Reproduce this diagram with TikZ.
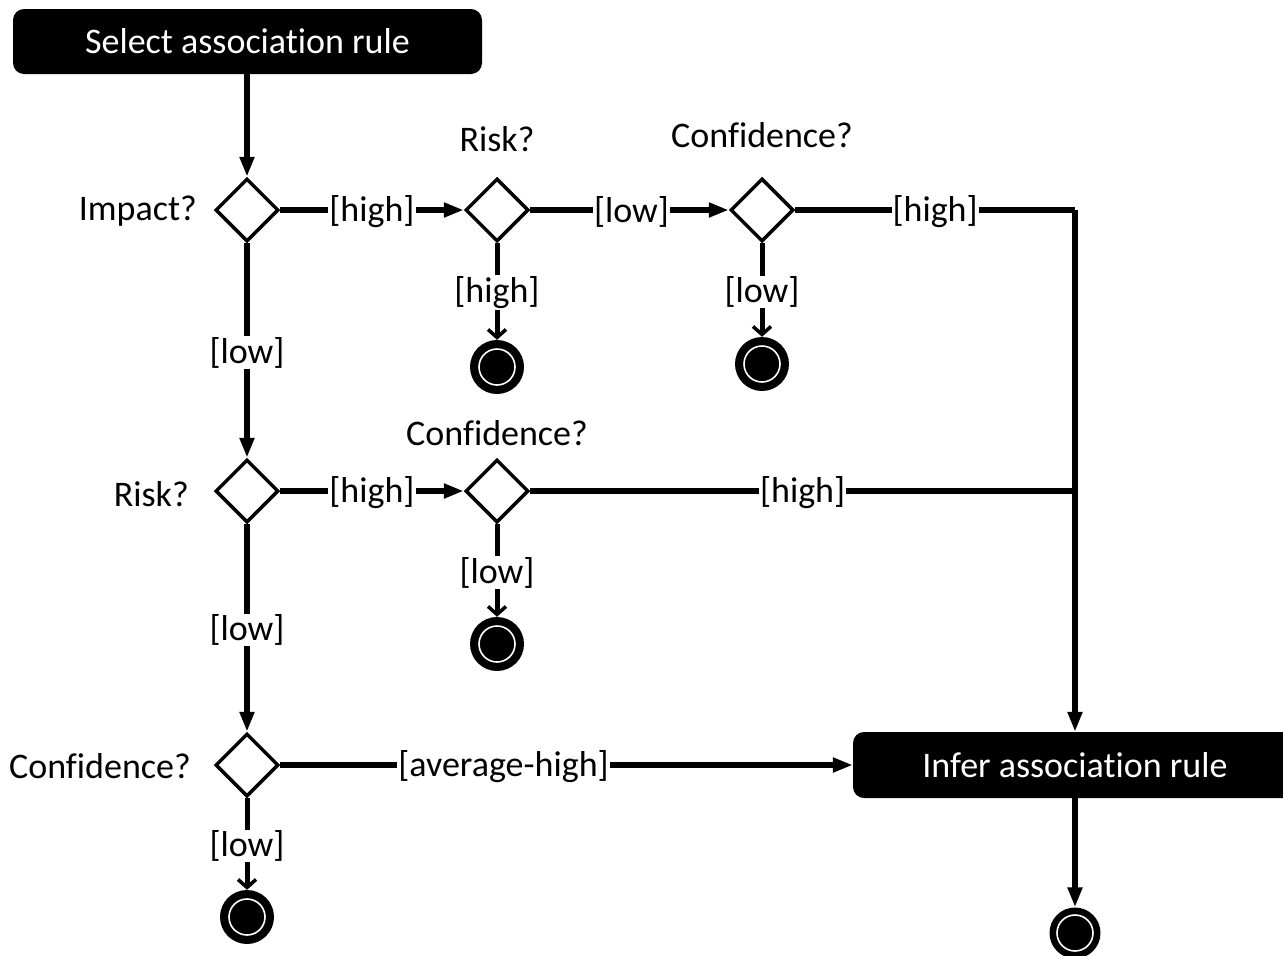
\documentclass[tikz,border=0pt]{standalone}
\usepackage{fontspec}
\setmainfont{Carlito}[Ligatures=NoCommon]
\usetikzlibrary{shapes.geometric,arrows.meta}
\begin{document}
\begin{tikzpicture}[x=1pt,y=-1pt,
  every node/.style={font=\fontsize{36}{42}\selectfont},
  action/.style={rectangle, rounded corners=11pt, fill=black, text=white, inner sep=0pt, font=\fontsize{36}{42}\selectfont},
  decision/.style={diamond, draw=black, fill=white, line width=3.5pt, minimum size=63pt, inner sep=0pt, aspect=1},
  endnode/.style={circle, fill=black, minimum size=54pt, inner sep=0pt,
    path picture={\draw[white, line width=1.6pt] (path picture bounding box.center) circle (18pt);}},
  flow/.style={line width=5.5pt, -{Triangle[length=20pt,width=14pt]}},
  plain/.style={line width=5.5pt},
  toend/.style={line width=5pt, -{Straight Barb[length=8pt,width=18pt,line width=3.5pt]}},
  guard/.style={fill=white, inner sep=1pt, yshift=-2pt},
  qlabel/.style={inner sep=0pt}
]
\useasboundingbox (0,0) rectangle (1283,956);
% action nodes
\node[action, minimum width=469pt, minimum height=65pt] (sel) at (247.5,41.5) {Select association rule};
\node[action, minimum width=444pt, minimum height=66pt] (inf) at (1075,765) {Infer association rule};
% decisions
\node[decision] (imp) at (247,210) {};
\node[decision] (r1) at (497,210) {};
\node[decision] (c1) at (762,210) {};
\node[decision] (r2) at (247,491) {};
\node[decision] (c2) at (497,491) {};
\node[decision] (c3) at (247,765) {};
% end nodes
\node[endnode] (e1) at (497,367) {};
\node[endnode] (e2) at (762,364) {};
\node[endnode] (e3) at (497,644) {};
\node[endnode] (e4) at (247,917) {};
\node[endnode, minimum size=51pt] (e5) at (1075,933) {};
% question labels
\node[qlabel, anchor=east] (limp) at (197,211) {Impact?};
\node[qlabel] (lr1) at (497,139) {Risk?};
\node[qlabel] (lc1) at (762,135) {Confidence?};
\node[qlabel, anchor=east] (lr2) at (189,494) {Risk?};
\node[qlabel] (lc2) at (497,433) {Confidence?};
\node[qlabel, anchor=east] (lc3) at (191,766) {Confidence?};
% junctions
\coordinate (j1) at (1075,210);
\coordinate (j2) at (1075,491);
% connectors
\draw[flow] (sel.south -| imp.north) -- (imp.north);
\draw[flow] (imp.east) -- node[guard, pos=0.5] {[high]} (r1.west);
\draw[flow] (r1.east) -- node[guard, pos=0.51] {[low]} (c1.west);
\draw[plain] (c1.east) -- node[guard, pos=0.5] {[high]} (j1);
\draw[flow] (j1) -- (inf.north);
\draw[toend] (r1.south) -- node[guard, pos=0.49] {[high]} (e1.north);
\draw[toend] (c1.south) -- node[guard, pos=0.5] {[low]} (e2.north);
\draw[flow] (imp.south) -- node[guard, pos=0.5] {[low]} (r2.north);
\draw[flow] (r2.east) -- node[guard, pos=0.5] {[high]} (c2.west);
\draw[plain] (c2.east) -- node[guard, pos=0.5] {[high]} (j2);
\draw[toend] (c2.south) -- node[guard, pos=0.5] {[low]} (e3.north);
\draw[flow] (r2.south) -- node[guard, pos=0.5] {[low]} (c3.north);
\draw[flow] (c3.east) -- node[guard, pos=0.39] {[average-high]} (inf.west);
\draw[toend] (c3.south) -- node[guard, pos=0.5] {[low]} (e4.north);
\draw[flow] (inf.south) -- (e5.north);
\end{tikzpicture}
\end{document}
